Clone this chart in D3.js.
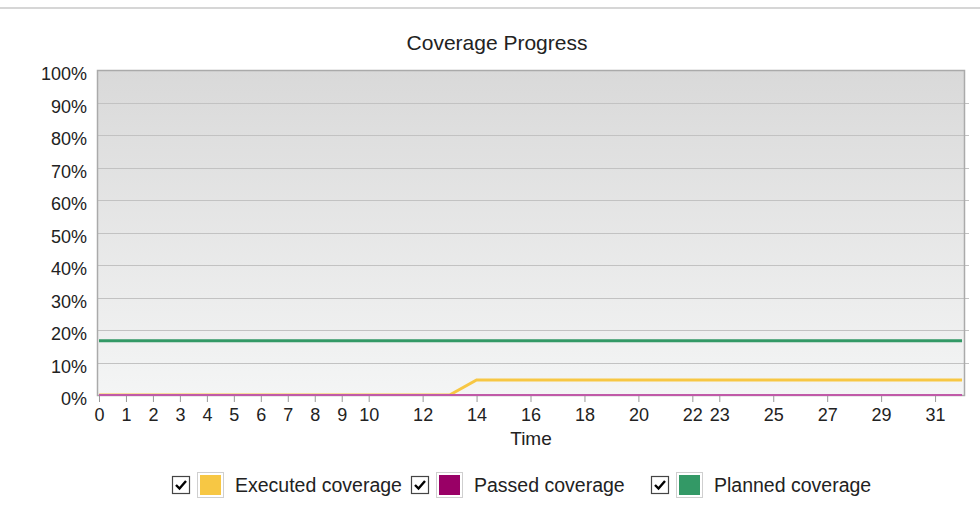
<!DOCTYPE html>
<html>
<head>
<meta charset="utf-8">
<script src="https://cdn.jsdelivr.net/npm/d3@7"></script>
<style>
  html, body { margin: 0; padding: 0; background: #fff; }
  svg { display: block; font-family: "Liberation Sans", Arial, sans-serif; }
</style>
</head>
<body>
<svg id="chart" width="980" height="523"></svg>
<script>
// Day index along the time axis
const days = d3.range(0, 33);
// Coverage values in percent, one per day
const executedCoverage = [0,0,0,0,0,0,0,0,0,0,0,0,0,0,4.6,4.6,4.6,4.6,4.6,4.6,4.6,4.6,4.6,4.6,4.6,4.6,4.6,4.6,4.6,4.6,4.6,4.6,4.6];
const passedCoverage   = days.map(() => 0);
const plannedCoverage  = days.map(() => 16.7);
// Labelled positions on the time axis
const timeTicks = [0,1,2,3,4,5,6,7,8,9,10,12,14,16,18,20,22,23,25,27,29,31];
const percentTicks = [0,10,20,30,40,50,60,70,80,90,100];

const seriesNames = ["Executed coverage", "Passed coverage", "Planned coverage"];
const seriesColors = ["#f7c744", "#990066", "#339966"];
const seriesValues = [executedCoverage, passedCoverage, plannedCoverage];

const svg = d3.select("#chart");
const plot = { left: 97, right: 965, top: 70, bottom: 396 };

// separator line at the very top
svg.append("rect").attr("x", 0).attr("y", 7).attr("width", 980).attr("height", 2).attr("fill", "#d6d6d6");

svg.append("text")
  .attr("x", 497).attr("y", 50)
  .attr("text-anchor", "middle")
  .attr("font-size", 21).attr("fill", "#222")
  .text("Coverage Progress");

const x = d3.scaleLinear().domain([-0.074, 32.11]).range([plot.left, plot.right]);
const y = d3.scaleLinear().domain([0, 100]).range([plot.bottom - 1, plot.top]);

// plot background gradient
const defs = svg.append("defs");
const grad = defs.append("linearGradient").attr("id", "bg").attr("x1", 0).attr("y1", 0).attr("x2", 0).attr("y2", 1);
grad.append("stop").attr("offset", "0%").attr("stop-color", "#d9d9d9");
grad.append("stop").attr("offset", "100%").attr("stop-color", "#f4f5f5");
defs.append("clipPath").attr("id", "clip").append("rect")
  .attr("x", plot.left).attr("y", plot.top).attr("width", plot.right - plot.left).attr("height", plot.bottom - plot.top);

svg.append("rect")
  .attr("x", plot.left).attr("y", plot.top)
  .attr("width", plot.right - plot.left).attr("height", plot.bottom - plot.top)
  .attr("fill", "url(#bg)");

// horizontal grid lines with short stubs past the right edge
const grid = svg.append("g");
grid.selectAll("line").data(percentTicks.filter(d => d > 0 && d < 100)).join("line")
  .attr("x1", plot.left).attr("x2", plot.right + 4)
  .attr("y1", d => Math.round(y(d)) + 0.5).attr("y2", d => Math.round(y(d)) + 0.5)
  .attr("stroke", "#c2c2c2").attr("stroke-width", 1.2);

// plot frame
svg.append("rect")
  .attr("x", plot.left + 0.5).attr("y", plot.top + 0.5)
  .attr("width", plot.right - plot.left - 1).attr("height", plot.bottom - plot.top - 1)
  .attr("fill", "none").attr("stroke", "#aaaaaa").attr("stroke-width", 1.5);

// y axis
const yAxis = svg.append("g")
  .attr("transform", `translate(${plot.left},0)`)
  .call(d3.axisLeft(y).tickValues(percentTicks).tickFormat(d => d + "%").tickSize(0).tickPadding(10));
yAxis.select(".domain").remove();
yAxis.selectAll("text").attr("font-size", 18).attr("fill", "#222")
  .attr("dy", "0.55em").attr("font-family", "Liberation Sans, Arial, sans-serif");

// x axis
const xAxis = svg.append("g")
  .attr("transform", `translate(0,${plot.bottom})`)
  .call(d3.axisBottom(x).tickValues(timeTicks).tickFormat(d3.format("d")).tickSize(6).tickPadding(6));
xAxis.select(".domain").remove();
xAxis.selectAll("line").attr("stroke", "#999");
xAxis.selectAll("text").attr("font-size", 18).attr("fill", "#222").attr("font-family", "Liberation Sans, Arial, sans-serif");

svg.append("text")
  .attr("x", (plot.left + plot.right) / 2).attr("y", 445)
  .attr("text-anchor", "middle").attr("font-size", 19).attr("fill", "#222")
  .text("Time");

// series lines; passed drawn last so it sits on top at 0%
const line = d3.line().x((d, i) => x(days[i])).y(d => y(d));
const order = [2, 0, 1];
const widths = [3, 2, 3];
const lines = svg.append("g").attr("clip-path", "url(#clip)");
order.forEach(k => {
  lines.append("path")
    .datum(seriesValues[k])
    .attr("d", line)
    .attr("fill", "none")
    .attr("stroke", k === 1 ? "#c05aa8" : seriesColors[k])
    .attr("stroke-width", widths[k]);
});

// legend
const legendX = [172, 411, 651];
const legend = svg.append("g");
seriesNames.forEach((name, i) => {
  const g = legend.append("g").attr("transform", `translate(${legendX[i]},476)`);
  g.append("rect").attr("x", 0.5).attr("y", 0.5).attr("width", 17).attr("height", 17)
    .attr("fill", "#fff").attr("stroke", "#444").attr("stroke-width", 1.2);
  g.append("path").attr("d", "M4,9 L7.5,12.5 L14,5")
    .attr("fill", "none").attr("stroke", "#000").attr("stroke-width", 2.4);
  g.append("rect").attr("x", 25.5).attr("y", -3.5).attr("width", 26).attr("height", 25)
    .attr("fill", "#fff").attr("stroke", "#cfcfcf").attr("stroke-width", 1);
  g.append("rect").attr("x", 28).attr("y", -1).attr("width", 21).attr("height", 20)
    .attr("fill", seriesColors[i]);
  g.append("text").attr("x", 63).attr("y", 16)
    .attr("font-size", 19.5).attr("fill", "#222").text(name);
});
</script>
</body>
</html>
